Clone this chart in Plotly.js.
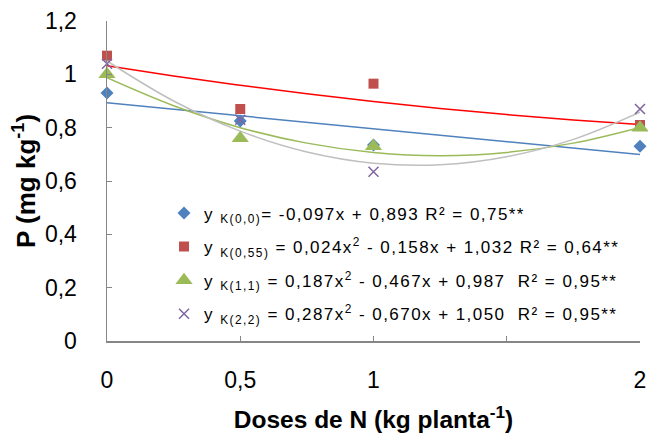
<!DOCTYPE html>
<html>
<head>
<meta charset="utf-8">
<script src="https://cdn.plot.ly/plotly-3.0.1.min.js"></script>
<style>
html,body{margin:0;padding:0;background:#fff;}
#chart{width:648px;height:441px;}
.legendtext{letter-spacing:1.45px;}
</style>
</head>
<body>
<div id="chart"></div>
<script>
// Observed data
var doses = [0, 0.5, 1, 2];
var pK00 = [0.93, 0.825, 0.735, 0.73];
var pK055 = [1.07, 0.87, 0.965, 0.81];
var pK11 = [1.00, 0.76, 0.73, 0.80];
var pK22 = [1.04, 0.83, 0.635, 0.87];

// Trend lines
var trendX = [0, 0.25, 0.5, 0.75, 1, 1.25, 1.5, 1.75, 2];
var trendLinX = [0, 2];
var trendK00 = [0.893, 0.699];
var trendK055 = [1.032, 0.994, 0.959, 0.927, 0.898, 0.872, 0.849, 0.829, 0.812];
var trendK11 = [0.987, 0.882, 0.800, 0.742, 0.707, 0.695, 0.707, 0.742, 0.801];
var trendK22 = [1.050, 0.900, 0.787, 0.709, 0.667, 0.661, 0.691, 0.756, 0.858];

// Legend labels
var nameK00 = 'y <sub>K(0,0)</sub>= -0,097x + 0,893 R² = 0,75**';
var nameK055 = 'y <sub>K(0,55)</sub> = 0,024x<sup>2</sup> - 0,158x + 1,032 R² = 0,64**';
var nameK11 = 'y <sub>K(1,1)</sub> = 0,187x<sup>2</sup> - 0,467x + 0,987 &nbsp;R² = 0,95**';
var nameK22 = 'y <sub>K(2,2)</sub> = 0,287x<sup>2</sup> - 0,670x + 1,050 &nbsp;R² = 0,95**';

// Axis ticks and titles
var xTickVals = [0, 0.5, 1, 1.5, 2];
var xTickText = ['0', '0,5', '1', '', '2'];
var yTickVals = [0, 0.2, 0.4, 0.6, 0.8, 1, 1.2];
var yTickText = ['0', '0,2', '0,4', '0,6', '0,8', '1', '1,2'];
var xTitle = '<b>Doses de N (kg planta<sup>-1</sup>)</b>';
var yTitle = '<b>P (mg kg<sup>-1</sup>)</b>';

var traces = [
  {x: trendLinX, y: trendK00, mode: 'lines', line: {color: '#4F81BD', width: 1.5}, showlegend: false, hoverinfo: 'skip'},
  {x: trendX, y: trendK055, mode: 'lines', line: {color: '#FF0000', width: 1.5, shape: 'spline'}, showlegend: false, hoverinfo: 'skip'},
  {x: trendX, y: trendK11, mode: 'lines', line: {color: '#9BBB59', width: 1.5, shape: 'spline'}, showlegend: false, hoverinfo: 'skip'},
  {x: trendX, y: trendK22, mode: 'lines', line: {color: '#BFBFBF', width: 1.5, shape: 'spline'}, showlegend: false, hoverinfo: 'skip'},
  {x: doses, y: pK00, name: nameK00, legendgroup: 'a', mode: 'markers', cliponaxis: false,
   marker: {symbol: 'diamond', size: 10, color: '#4F81BD'}},
  {x: doses, y: pK055, name: nameK055, legendgroup: 'b', mode: 'markers', cliponaxis: false,
   marker: {symbol: 'square', size: 10, color: '#C0504D'}},
  {x: doses, y: pK11, name: nameK11, legendgroup: 'c', mode: 'markers', cliponaxis: false,
   marker: {symbol: 'triangle-up', size: 15, color: '#9BBB59'}},
  {x: doses, y: pK22, name: nameK22, legendgroup: 'd', mode: 'markers', cliponaxis: false,
   marker: {symbol: 'x-thin-open', size: 10, color: '#8064A2', line: {color: '#8064A2', width: 1.5}}}
];

var layout = {
  width: 648, height: 441,
  margin: {l: 107, r: 8, t: 21, b: 100, pad: 0},
  paper_bgcolor: '#ffffff', plot_bgcolor: '#ffffff',
  font: {family: 'Liberation Sans, Arial, sans-serif', color: '#000000', size: 18},
  showlegend: true,
  legend: {
    x: 0.107, y: 0.455, xanchor: 'left', yanchor: 'top',
    bgcolor: 'rgba(0,0,0,0)', borderwidth: 0,
    font: {size: 17, color: '#000000'},
    tracegroupgap: 8.5
  },
  xaxis: {
    range: [0, 2], fixedrange: true,
    tickmode: 'array', tickvals: xTickVals, ticktext: xTickText,
    ticks: 'inside', ticklen: 5, tickcolor: '#868686', tickwidth: 1,
    showline: true, linecolor: '#868686', linewidth: 1.5,
    showgrid: false, zeroline: false,
    ticklabelstandoff: 18,
    tickfont: {size: 23},
    title: {text: xTitle, font: {size: 24.5}, standoff: 19}
  },
  yaxis: {
    range: [0, 1.2], fixedrange: true,
    tickmode: 'array', tickvals: yTickVals, ticktext: yTickText,
    ticks: 'inside', ticklen: 5, tickcolor: '#868686', tickwidth: 1,
    showline: true, linecolor: '#868686', linewidth: 1.5,
    showgrid: false, zeroline: false,
    ticklabelstandoff: 24,
    tickfont: {size: 23}
  },
  annotations: [
    {text: yTitle, xref: 'paper', yref: 'paper', x: -0.1557, y: 0.5,
     xanchor: 'center', yanchor: 'middle', textangle: -90, showarrow: false,
     font: {size: 26, color: '#000000'}}
  ]
};

Plotly.newPlot('chart', traces, layout, {staticPlot: true, displayModeBar: false});
</script>
</body>
</html>
